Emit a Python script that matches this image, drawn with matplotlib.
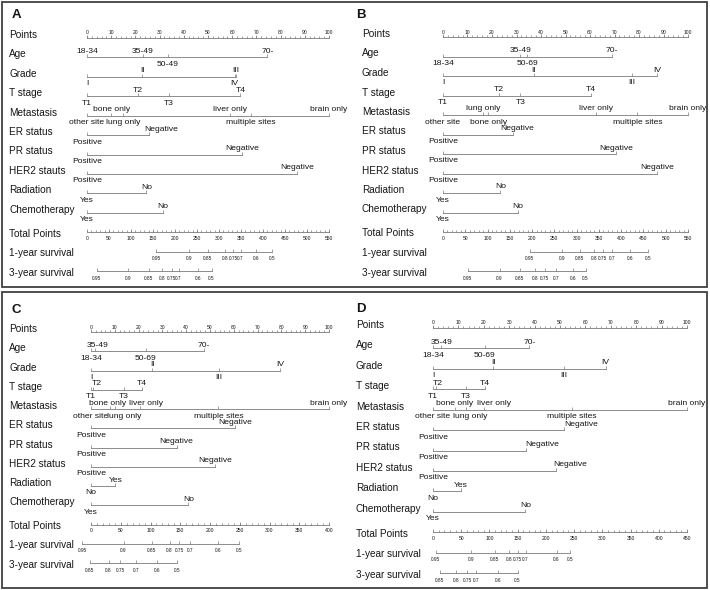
import matplotlib.pyplot as plt
from matplotlib.patches import Rectangle

plt.rcParams['font.family'] = ['Liberation Sans', 'DejaVu Sans']

# ---- data ----
row_names = ['Points', 'Age', 'Grade', 'T stage', 'Metastasis', 'ER status',
             'PR status', 'HER2 status', 'Radiation', 'Chemotherapy',
             'Total Points', '1-year survival', '3-year survival']
var_names = row_names[1:10]

age_levels = ['18-34', '35-49', '50-69', '70-']
grade_levels = ['I', 'II', 'III', 'IV']
t_levels = ['T1', 'T2', 'T3', 'T4']
met_levels = ['other site', 'bone only', 'lung only', 'liver only',
              'multiple sites', 'brain only']
status_levels = ['Positive', 'Negative']
treat_levels = ['Yes', 'No']
surv_probs = [0.95, 0.9, 0.85, 0.8, 0.75, 0.7, 0.6, 0.5]
surv_probs_short = [0.85, 0.8, 0.75, 0.7, 0.6, 0.5]

# panel A
a_age = [0, 23, 33.5, 74.5]
a_grade = [0, 22.9, 61.5, 61.0]
a_tstage = [0, 21, 33.9, 63.4]
a_met = [0, 10, 14.9, 59, 67.6, 100]
a_er = [0, 25.5]
a_pr = [0, 64]
a_her2 = [0, 86.8]
a_rad = [0, 24.5]
a_chemo = [0, 31.4]
a_total_max = 550
a_surv1 = [157.6, 231, 275, 313, 332, 349, 385, 421]
a_surv3 = [22, 93, 141, 170, 193, 208, 252, 283]

# panel B
b_age = [0, 31.6, 34.4, 69]
b_grade = [0, 37.1, 77.1, 87.5]
b_tstage = [0, 22.9, 31.6, 60.5]
b_met = [0, 18.4, 16.3, 62.3, 79.3, 100]
b_er = [0, 28.6]
b_pr = [0, 70.7]
b_her2 = [0, 87.3]
b_rad = [0, 23.4]
b_chemo = [0, 30.6]
b_total_max = 550
b_surv1 = [194.6, 268, 307.5, 339, 359, 379, 420.5, 460]
b_surv3 = [56, 127, 172, 206, 228, 254, 292, 320]

# panel C
c_age = [0, 1.5, 22.9, 47.5]
c_grade = [0, 25.7, 53.9, 79.6]
c_tstage = [0, 1.0, 13.7, 21.4]
c_met = [0, 8.1, 9.9, 20.7, 53.5, 100]
c_er = [0, 60.5]
c_pr = [0, 36]
c_her2 = [0, 52]
c_rad = [10.2, 0]
c_chemo = [0, 40.9]
c_total_max = 400
c_surv1 = [-15, 54.7, 102, 132, 148, 166.5, 214, 249]
c_surv3 = [-2.2, 29.6, 49, 76, 110.6, 145]

# panel D
d_age = [0, 3.3, 20.4, 37.9]
d_grade = [0, 23.7, 51.6, 68]
d_tstage = [0, 1.0, 12.9, 20.4]
d_met = [0, 8.6, 12.9, 20.1, 54.6, 100]
d_er = [0, 51.7]
d_pr = [0, 36.8]
d_her2 = [0, 48.4]
d_rad = [10.9, 0]
d_chemo = [0, 36.4]
d_total_max = 450
d_surv1 = [4.7, 68, 109.5, 134.4, 149.8, 164, 219, 242.8]
d_surv3 = [11.8, 41.4, 61, 77, 115.5, 149.8]

# ---- layout ----
W, H = 710, 590
GRAY = '#7a7a7a'
TXT = '#151515'

levels_default = [age_levels, grade_levels, t_levels, met_levels,
                  status_levels, status_levels, status_levels,
                  treat_levels, treat_levels]

sides_ab = [[1, 1, -1, 1], [-1, 1, 1, -1], [-1, 1, -1, 1], [-1, 1, -1, 1, -1, 1],
            [-1, 1], [-1, 1], [-1, 1], [-1, 1], [-1, 1]]
sides_b = [[-1, 1, -1, 1], [-1, 1, -1, 1], [-1, 1, -1, 1], [-1, -1, 1, 1, -1, 1],
           [-1, 1], [-1, 1], [-1, 1], [-1, 1], [-1, 1]]
sides_cd = [[-1, 1, -1, 1], [-1, 1, -1, 1], [-1, 1, -1, 1], [-1, 1, -1, 1, -1, 1],
            [-1, 1], [-1, 1], [-1, 1], [1, -1], [-1, 1]]


def draw_panel(fig, letter, values, total_max, surv1, probs1, surv3, probs3,
               x0, x1, y_top, y_bot, label_x, letter_xy, sides,
               shifts=None, rows=None, levels=None):
    rows = rows or row_names
    levels = levels or levels_default
    shifts = shifts or {}
    ax = fig.add_axes([x0 / W, 1 - y_bot / H, (x1 - x0) / W, (y_bot - y_top) / H])
    ax.set_xlim(0, 100)
    ax.set_ylim(12, 0)
    ax.axis('off')
    lx = (label_x - x0) / (x1 - x0) * 100
    kw = dict(textcoords='offset pixels', annotation_clip=False, color=TXT)

    # row labels
    for r, name in enumerate(rows):
        dy = -4.5 if r >= 10 else 0
        ax.annotate(name, (lx, r), xytext=(0, dy), ha='left', va='baseline',
                    fontsize=7.2, **kw)

    # points axis
    ax.plot([0, 100], [0, 0], color=GRAY, lw=0.6, clip_on=False)
    ax.plot(range(0, 101, 2), [0] * 51, ls='none', marker=2, ms=1.1, mew=0.5,
            color=GRAY, clip_on=False)
    ax.plot(range(0, 101, 10), [0] * 11, ls='none', marker=2, ms=2.2, mew=0.5,
            color=GRAY, clip_on=False)
    for v in range(0, 101, 10):
        ax.annotate(str(v), (v, 0), xytext=(0, 3.5), ha='center', va='baseline',
                    fontsize=3.6, **kw)

    # variable rows
    for i, vals in enumerate(values):
        r = i + 1
        ax.plot([min(vals), max(vals)], [r, r], color=GRAY, lw=0.6, clip_on=False)
        ax.plot(vals, [r] * len(vals), ls='none', marker=2, ms=2.2, mew=0.5,
                color=GRAY, clip_on=False)
        for j, (lev, v) in enumerate(zip(levels[i], vals)):
            s = sides[i][j]
            sh = shifts.get((i, j), 0)
            ax.annotate(lev, (v + sh, r), xytext=(0, 4.5 if s > 0 else -8.5),
                        ha='center', va='baseline', fontsize=6.1, **kw)

    # total points axis
    r = 10
    ax.plot([0, 100], [r, r], color=GRAY, lw=0.6, clip_on=False)
    minor = list(range(0, total_max + 1, 10))
    major = list(range(0, total_max + 1, 50))
    ax.plot([t / total_max * 100 for t in minor], [r] * len(minor), ls='none',
            marker=2, ms=1.1, mew=0.5, color=GRAY, clip_on=False)
    ax.plot([t / total_max * 100 for t in major], [r] * len(major), ls='none',
            marker=2, ms=2.2, mew=0.5, color=GRAY, clip_on=False)
    for t in major:
        ax.annotate(str(t), (t / total_max * 100, r), xytext=(0, -8),
                    ha='center', va='baseline', fontsize=3.6, **kw)

    # survival axes
    for r, tot, probs in [(11, surv1, probs1), (12, surv3, probs3)]:
        xs = [t / total_max * 100 for t in tot]
        ax.plot([min(xs), max(xs)], [r, r], color=GRAY, lw=0.6, clip_on=False)
        ax.plot(xs, [r] * len(xs), ls='none', marker=2, ms=2.2, mew=0.5,
                color=GRAY, clip_on=False)
        for x, p in zip(xs, probs):
            ax.annotate('%g' % p, (x, r), xytext=(0, -8.5), ha='center',
                        va='baseline', fontsize=3.4, **kw)

    fig.text(letter_xy[0] / W, 1 - letter_xy[1] / H, letter, fontsize=9.5,
             fontweight='bold', ha='left', va='baseline', color=TXT)


fig = plt.figure(figsize=(7.1, 5.9), dpi=100, facecolor='white')

rows_a = row_names[:7] + ['HER2 stauts'] + row_names[8:]
levels_a = [['18-34', '35-49', '50-49', '70-']] + levels_default[1:]

draw_panel(fig, 'A', [a_age, a_grade, a_tstage, a_met, a_er, a_pr, a_her2, a_rad, a_chemo],
           a_total_max, a_surv1, surv_probs, a_surv3, surv_probs,
           87, 329, 38, 271, 9, (12, 18), sides_ab,
           shifts={(4, 1): 5}, rows=rows_a, levels=levels_a)
draw_panel(fig, 'B', [b_age, b_grade, b_tstage, b_met, b_er, b_pr, b_her2, b_rad, b_chemo],
           b_total_max, b_surv1, surv_probs, b_surv3, surv_probs,
           443, 688, 37, 271, 362, (356, 18), sides_b,
           shifts={(4, 1): 1.6})
draw_panel(fig, 'C', [c_age, c_grade, c_tstage, c_met, c_er, c_pr, c_her2, c_rad, c_chemo],
           c_total_max, c_surv1, surv_probs, c_surv3, surv_probs_short,
           91, 329, 332, 563, 9, (12, 313), sides_cd,
           shifts={(0, 1): 1.5, (2, 1): 1.5, (3, 1): -1.2, (3, 2): 4, (3, 3): 2.5})
draw_panel(fig, 'D', [d_age, d_grade, d_tstage, d_met, d_er, d_pr, d_her2, d_rad, d_chemo],
           d_total_max, d_surv1, surv_probs, d_surv3, surv_probs_short,
           433, 687, 328, 573, 356, (356, 312), sides_cd,
           shifts={(2, 1): 1, (3, 2): 1.8, (3, 3): 4, (4, 1): 6.8, (5, 1): 6, (6, 1): 5.5})

# panel frames
fig.add_artist(Rectangle((2 / W, 1 - 287 / H), 705 / W, 285 / H, transform=fig.transFigure,
                         fill=False, lw=1.3, ec='#404040'))
fig.add_artist(Rectangle((2 / W, 1 - 588 / H), 705 / W, 296 / H, transform=fig.transFigure,
                         fill=False, lw=1.3, ec='#404040'))

fig.savefig('out.png', dpi=100)
